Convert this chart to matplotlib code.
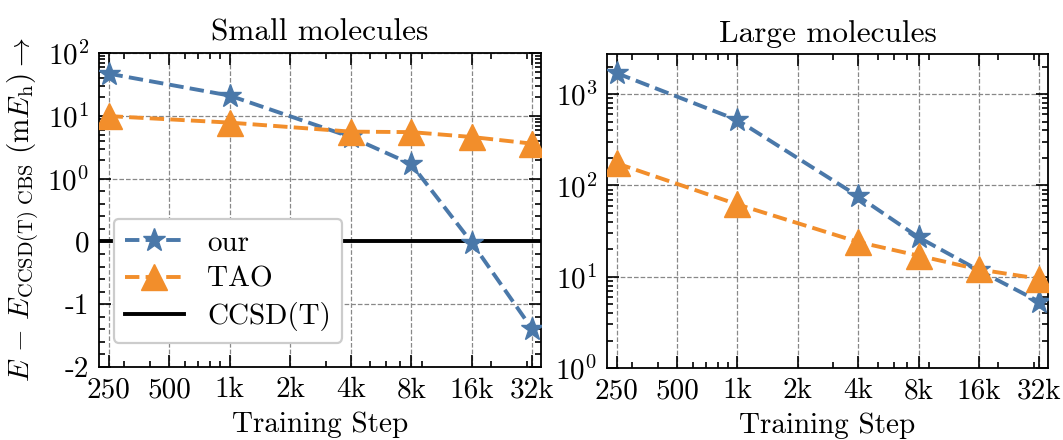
import matplotlib
matplotlib.use('Agg')
import matplotlib.pyplot as plt
import numpy as np

plt.rcParams['font.family'] = 'cmr10'
plt.rcParams['mathtext.fontset'] = 'cm'
plt.rcParams['axes.formatter.use_mathtext'] = True
plt.rcParams['font.size'] = 21
plt.rcParams['axes.unicode_minus'] = False

# training steps
steps = [250, 1000, 4000, 8000, 16000, 32000]
xticks = [250, 500, 1000, 2000, 4000, 8000, 16000, 32000]
xtick_labels = ['250', '500', '1k', '2k', '4k', '8k', '16k', '32k']

# small molecules (mEh)
small_our = [47, 21, 4.6, 1.7, -0.02, -1.4]
small_tao = [9.9, 7.8, 5.6, 5.5, 4.6, 3.6]

# large molecules (mEh)
large_our = [1700, 520, 76, 27, 11.7, 5.3]
large_tao = [175, 62, 24, 17, 12, 9.5]

blue = '#4A78A9'
orange = '#F28E2B'


def fwd(y):
    # log above 1, linear below
    y = np.asarray(y, dtype=float)
    return np.where(y >= 1, np.log10(np.maximum(y, 1)), y - 1)


def inv(p):
    p = np.asarray(p, dtype=float)
    return np.where(p >= 0, 10 ** np.maximum(p, 0), p + 1)


def style_axes(ax):
    ax.set_xscale('log')
    ax.set_xlim(224, 35300)
    ax.set_xticks(xticks)
    ax.set_xticklabels(xtick_labels)
    ax.tick_params(which='both', direction='in', top=True, right=True, width=1.2)
    ax.tick_params(which='major', length=8.5, pad=7)
    ax.tick_params(which='minor', length=4)
    ax.grid(True, which='major', linestyle='--', color='#888888', lw=0.9)
    for s in ax.spines.values():
        s.set_linewidth(1.3)
    ax.set_xlabel('Training Step', labelpad=6)


fig = plt.figure(figsize=(10.63, 4.4), dpi=100)
ax1 = fig.add_axes([0.0931, 0.1659, 0.4158, 0.7136])
ax2 = fig.add_axes([0.571, 0.1636, 0.4149, 0.7136])

line_kw = dict(ls='--', lw=2.8, zorder=3)

# left panel
ax1.set_yscale('function', functions=(fwd, inv))
ax1.set_ylim(-2, 100)
ax1.axhline(0, color='black', lw=2.8, label='CCSD(T)', zorder=2)
ax1.plot(steps, small_our, color=blue, marker='*', ms=17, label='our', **line_kw)
ax1.plot(steps, small_tao, color=orange, marker='^', ms=19, label='TAO', **line_kw)
ax1.set_yticks([-2, -1, 0, 1, 10, 100])
ax1.set_yticklabels(['-2', '-1', '0', r'$10^0$', r'$10^1$', r'$10^2$'])
minor = [v / 5 for v in range(-10, 5) if v % 5 != 0]
minor += [m * d for d in (1, 10) for m in range(2, 10)]
ax1.set_yticks(minor, minor=True)
style_axes(ax1)
ax1.set_title('Small molecules', pad=9, fontsize=22.5)
ax1.set_ylabel(r'$E\,-\,E_{\mathrm{CCSD(T)}\ \mathrm{CBS}}\ (\mathrm{m}E_{\mathrm{h}})\rightarrow$',
               labelpad=4)
h, l = ax1.get_legend_handles_labels()
order = [1, 2, 0]
leg = ax1.legend([h[i] for i in order], [l[i] for i in order], loc='lower left',
                 bbox_to_anchor=(0.0, 0.03), framealpha=1, edgecolor='#cccccc',
                 fancybox=True, borderpad=0.4, labelspacing=0.33, handletextpad=0.8)
leg.get_frame().set_linewidth(1.6)

# right panel
ax2.plot(steps, large_our, color=blue, marker='*', ms=17, **line_kw)
ax2.plot(steps, large_tao, color=orange, marker='^', ms=19, **line_kw)
ax2.set_yscale('log')
ax2.set_ylim(1, 2750)
style_axes(ax2)
ax2.set_title('Large molecules', pad=9, fontsize=22.5)

fig.savefig('out.png', dpi=100)
